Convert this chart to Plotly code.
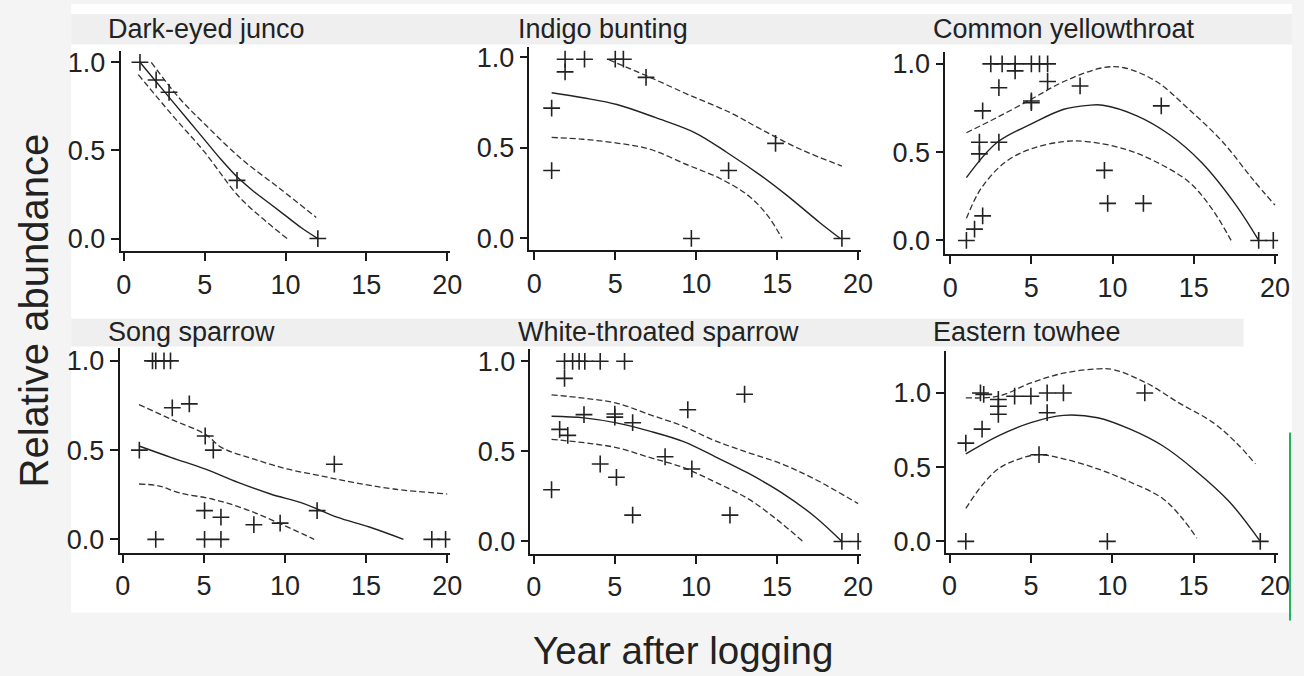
import plotly.graph_objects as go

# ---------------- data ----------------
titles = ["Dark-eyed junco", "Indigo bunting", "Common yellowthroat",
          "Song sparrow", "White-throated sparrow", "Eastern towhee"]

# Dark-eyed junco
junco_x = [1, 2, 2.8, 7, 12]
junco_y = [1.0, 0.9, 0.83, 0.33, 0.0]
junco_fit_x = [1, 2, 3, 4, 5, 6, 7, 8, 9, 10, 11, 12]
junco_fit_y = [1.0, 0.89, 0.78, 0.67, 0.56, 0.45, 0.35, 0.27, 0.2, 0.13, 0.06, 0.0]
junco_up_x = [1.7, 3.4, 5.0, 7.3, 9.7, 11.9]
junco_up_y = [1.0, 0.80, 0.65, 0.45, 0.28, 0.12]
junco_lo_x = [0.9, 3.0, 5.0, 7.0, 8.5, 10.1]
junco_lo_y = [0.93, 0.70, 0.49, 0.25, 0.12, 0.0]

# Indigo bunting
ind_x = [1.07, 1.07, 1.9, 1.9, 3.1, 5.0, 5.5, 6.9, 9.7, 12.0, 14.9, 19.0]
ind_y = [0.72, 0.375, 0.99, 0.92, 0.99, 0.99, 0.99, 0.89, 0.0, 0.375, 0.525, 0.0]
ind_fit_x = [1.07, 3.0, 5.1, 7.5, 9.9, 11.9, 14.0, 15.6, 17.6, 18.9]
ind_fit_y = [0.805, 0.777, 0.74, 0.667, 0.585, 0.475, 0.347, 0.238, 0.09, 0.0]
ind_up_x = [4.6, 6.9, 9.5, 12.1, 14.0, 16.4, 19.0]
ind_up_y = [0.987, 0.9, 0.795, 0.695, 0.603, 0.494, 0.40]
ind_lo_x = [1.07, 3.0, 5.1, 7.1, 9.5, 11.5, 13.2, 14.4, 15.3]
ind_lo_y = [0.558, 0.548, 0.527, 0.494, 0.405, 0.33, 0.238, 0.128, 0.0]

# Common yellowthroat
cy_x = [1.0, 1.5, 2.0, 1.8, 1.8, 2.0, 2.5, 3.2, 3.0, 3.0, 4.0, 4.0, 5.0, 5.5, 6.0,
        5.0, 5.0, 6.0, 8.0, 9.5, 9.7, 11.9, 13.0, 19.0, 19.9]
cy_y = [0.0, 0.064, 0.139, 0.556, 0.49, 0.734, 1.0, 1.0, 0.865, 0.556, 1.0, 0.96, 1.0, 1.0, 1.0,
        0.78, 0.79, 0.90, 0.875, 0.397, 0.21, 0.21, 0.762, 0.0, 0.0]
cy_fit_x = [1.0, 2.9, 5.0, 7.0, 8.5, 9.4, 11.5, 13.5, 15.5, 17.6, 19.0]
cy_fit_y = [0.356, 0.556, 0.66, 0.743, 0.765, 0.766, 0.706, 0.6, 0.44, 0.2, 0.0]
cy_up_x = [1.0, 2.9, 5.0, 7.0, 9.4, 10.7, 12.7, 14.7, 16.8, 18.6, 20.0]
cy_up_y = [0.61, 0.697, 0.80, 0.90, 0.978, 0.978, 0.90, 0.743, 0.556, 0.35, 0.20]
cy_lo_x = [1.0, 1.9, 3.4, 5.0, 7.0, 8.4, 10.7, 12.7, 14.7, 16.1, 17.3]
cy_lo_y = [0.125, 0.294, 0.444, 0.519, 0.56, 0.56, 0.519, 0.444, 0.331, 0.182, 0.0]

# Song sparrow
ss_x = [1.83, 2.03, 2.54, 2.94, 3.05, 4.1, 1.02, 5.08, 5.58, 13.04, 5.04, 6.05, 8.08,
        9.7, 11.98, 2.03, 5.04, 6.05, 19.05, 19.9]
ss_y = [1.0, 1.0, 1.0, 1.0, 0.737, 0.759, 0.5, 0.579, 0.5, 0.421, 0.161, 0.124, 0.082,
        0.091, 0.161, 0.0, 0.0, 0.0, 0.0, 0.0]
ss_fit_x = [1.0, 3.0, 5.1, 7.1, 9.1, 11.2, 13.2, 15.2, 17.3]
ss_fit_y = [0.523, 0.458, 0.393, 0.319, 0.254, 0.199, 0.124, 0.069, 0.0]
ss_up_x = [1.0, 3.0, 5.1, 6.1, 8.1, 10.2, 12.2, 14.2, 16.7, 20.0]
ss_up_y = [0.755, 0.672, 0.588, 0.514, 0.449, 0.393, 0.356, 0.319, 0.282, 0.254]
ss_lo_x = [1.0, 2.2, 3.5, 5.5, 7.5, 9.5, 11.8]
ss_lo_y = [0.31, 0.30, 0.26, 0.226, 0.171, 0.096, 0.0]

# White-throated sparrow
wt_x = [1.9, 2.4, 2.8, 3.15, 4.1, 5.6, 1.9, 13.0, 3.1, 5.0, 5.0, 9.5, 6.1, 1.6, 2.1,
        8.1, 9.75, 4.1, 5.1, 1.1, 6.1, 12.1, 19.0, 20.0]
wt_y = [1.0, 1.0, 1.0, 1.0, 1.0, 1.0, 0.905, 0.817, 0.704, 0.707, 0.69, 0.731, 0.659, 0.622, 0.589,
        0.47, 0.402, 0.43, 0.356, 0.287, 0.146, 0.146, 0.0, 0.0]
wt_fit_x = [1.1, 3.1, 5.1, 7.15, 9.2, 11.2, 13.2, 15.3, 17.3, 19.0]
wt_fit_y = [0.695, 0.686, 0.658, 0.612, 0.555, 0.47, 0.38, 0.27, 0.14, 0.0]
wt_up_x = [1.1, 3.1, 5.1, 7.15, 9.2, 11.2, 13.2, 15.3, 17.3, 20.0]
wt_up_y = [0.814, 0.795, 0.768, 0.704, 0.64, 0.558, 0.494, 0.43, 0.347, 0.21]
wt_lo_x = [1.1, 3.1, 5.1, 7.15, 9.2, 11.2, 13.2, 14.9, 16.6]
wt_lo_y = [0.567, 0.548, 0.521, 0.466, 0.411, 0.329, 0.238, 0.128, 0.0]

# Eastern towhee
et_x = [1.0, 9.7, 19.1, 1.0, 2.0, 1.9, 2.1, 3.0, 3.0, 3.0, 4.0, 5.0, 6.0, 7.0, 6.0, 12.0, 5.5]
et_y = [0.0, 0.0, 0.0, 0.662, 0.756, 1.0, 0.99, 0.956, 0.91, 0.856, 0.978, 0.978, 1.0, 1.0,
        0.867, 1.0, 0.584]
et_fit_x = [1.0, 3.0, 5.0, 7.0, 9.1, 11.1, 13.1, 15.1, 17.2, 19.1]
et_fit_y = [0.589, 0.711, 0.8, 0.849, 0.833, 0.756, 0.644, 0.478, 0.267, 0.0]
et_up_x = [1.0, 3.0, 5.0, 7.0, 9.1, 10.1, 12.1, 14.1, 16.2, 17.6, 18.8]
et_up_y = [0.967, 0.978, 1.067, 1.133, 1.162, 1.156, 1.067, 0.933, 0.8, 0.667, 0.522]
et_lo_x = [1.0, 2.0, 3.0, 4.0, 5.4, 7.0, 9.1, 11.1, 13.1, 14.3, 15.2]
et_lo_y = [0.222, 0.378, 0.489, 0.544, 0.584, 0.556, 0.489, 0.4, 0.289, 0.156, 0.022]

x_ticks = [0, 5, 10, 15, 20]
y_ticks = [0.0, 0.5, 1.0]
y_ticktext = ["0.0", "0.5", "1.0"]
x_title = "Year after logging"
y_title = "Relative abundance"

series = [
    (junco_x, junco_y, junco_fit_x, junco_fit_y, junco_up_x, junco_up_y, junco_lo_x, junco_lo_y),
    (ind_x, ind_y, ind_fit_x, ind_fit_y, ind_up_x, ind_up_y, ind_lo_x, ind_lo_y),
    (cy_x, cy_y, cy_fit_x, cy_fit_y, cy_up_x, cy_up_y, cy_lo_x, cy_lo_y),
    (ss_x, ss_y, ss_fit_x, ss_fit_y, ss_up_x, ss_up_y, ss_lo_x, ss_lo_y),
    (wt_x, wt_y, wt_fit_x, wt_fit_y, wt_up_x, wt_up_y, wt_lo_x, wt_lo_y),
    (et_x, et_y, et_fit_x, et_fit_y, et_up_x, et_up_y, et_lo_x, et_lo_y),
]

# ---------------- layout (pixel boxes) ----------------
W, H = 1304, 676
def fx(px):
    return px / W
def fy(py):
    return 1 - py / H

# (left, right, top, bottom) in px, x range, y range, title pos (x,y)
boxes = [
    ((118, 452, 47, 250), (-0.2, 20.2), (-0.073, 1.067), (103, 25)),
    ((532, 868, 43, 249), (-0.3, 20.2), (-0.066, 1.06), (518, 25)),
    ((953, 1290, 48, 253), (-0.3, 20.2), (-0.079, 1.07), (939, 25)),
    ((117, 452, 348, 555), (-0.2, 20.2), (-0.078, 1.07), (103, 331)),
    ((533, 868, 349, 556), (-0.2, 20.2), (-0.071, 1.066), (518, 331)),
    ((954, 1290, 351, 555), (-0.2, 20.2), (-0.08, 1.28), (939, 331)),
]

FONT = "Liberation Sans, Arial, sans-serif"
INK = "#1a1a1a"
TXT = "#222222"

fig = go.Figure()
layout = dict(
    width=W, height=H, margin=dict(l=0, r=0, t=0, b=0),
    paper_bgcolor="#f4f4f4", plot_bgcolor="white", showlegend=False,
    font=dict(family=FONT, color=TXT),
)
annotations = []
shapes = [
    dict(type="rect", xref="paper", yref="paper", x0=fx(68), x1=1, y0=fy(615), y1=1,
         fillcolor="white", line=dict(width=0), layer="below"),
    dict(type="rect", xref="paper", yref="paper", x0=fx(68), x1=1, y0=fy(41), y1=fy(10),
         fillcolor="#efefef", line=dict(width=0), layer="below"),
    dict(type="rect", xref="paper", yref="paper", x0=fx(68), x1=fx(1255), y0=fy(346), y1=fy(318),
         fillcolor="#efefef", line=dict(width=0), layer="below"),
    dict(type="line", xref="paper", yref="paper", x0=fx(1302), x1=fx(1302), y0=fy(623), y1=fy(433),
         line=dict(color="#22b35a", width=2)),
]

for i, (box, xr, yr, tpos) in enumerate(boxes):
    n = i + 1
    xa = "x" if n == 1 else f"x{n}"
    ya = "y" if n == 1 else f"y{n}"
    l, r, t, b = box
    px, py, fxs, fys, uxs, uys, lxs, lys = series[i]
    dash = "6px,3px"
    fig.add_trace(go.Scatter(x=uxs, y=uys, mode="lines", xaxis=xa, yaxis=ya,
                             line=dict(color="#333", width=1.3, dash=dash, shape="spline")))
    fig.add_trace(go.Scatter(x=lxs, y=lys, mode="lines", xaxis=xa, yaxis=ya,
                             line=dict(color="#333", width=1.3, dash=dash, shape="spline")))
    fig.add_trace(go.Scatter(x=fxs, y=fys, mode="lines", xaxis=xa, yaxis=ya,
                             line=dict(color="#222", width=1.4, shape="spline")))
    fig.add_trace(go.Scatter(x=px, y=py, mode="markers", xaxis=xa, yaxis=ya,
                             marker=dict(symbol="cross-thin", size=12,
                                         line=dict(color="#222", width=1.6))))
    axis_common = dict(showgrid=False, zeroline=False, showline=True, linecolor=INK,
                       linewidth=1.6, ticks="outside", ticklen=8, tickwidth=1.5,
                       tickcolor=INK, tickfont=dict(family=FONT, size=27, color=TXT))
    layout[f"xaxis{'' if n == 1 else n}"] = dict(
        domain=[fx(l), fx(r)], range=list(xr), anchor=ya, tickvals=x_ticks, **axis_common)
    layout[f"yaxis{'' if n == 1 else n}"] = dict(
        domain=[fy(b), fy(t)], range=list(yr), anchor=xa, tickvals=y_ticks,
        ticktext=y_ticktext, **axis_common)
    annotations.append(dict(text=titles[i], xref="paper", yref="paper",
                            x=fx(tpos[0]), y=fy(tpos[1]), xanchor="left", yanchor="middle",
                            showarrow=False, font=dict(family=FONT, size=27, color=TXT)))

annotations.append(dict(text=x_title, xref="paper", yref="paper", x=fx(687), y=fy(653),
                        xanchor="center", yanchor="middle", showarrow=False,
                        font=dict(family=FONT, size=38.5, color=TXT)))
annotations.append(dict(text=y_title, xref="paper", yref="paper", x=fx(30), y=fy(310),
                        xanchor="center", yanchor="middle", textangle=-90, showarrow=False,
                        font=dict(family=FONT, size=40, color=TXT)))

layout["annotations"] = annotations
layout["shapes"] = shapes
fig.update_layout(**layout)
fig.write_html("out.html")
